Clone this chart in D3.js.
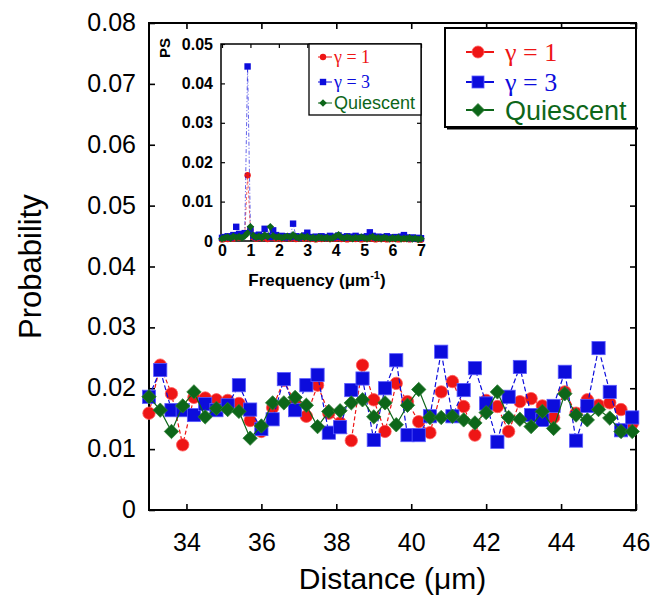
<!DOCTYPE html>
<html>
<head>
<meta charset="utf-8">
<script src="https://cdn.jsdelivr.net/npm/d3@7/dist/d3.min.js"></script>
<style>
  body { margin: 0; background: #fff; }
  svg { display: block; }
</style>
</head>
<body>
<svg id="chart" width="653" height="599"></svg>
<script>
// ---- Main panel: probability vs. distance ----
const distance = [33.0, 33.3, 33.6, 33.9, 34.2, 34.5, 34.8, 35.1, 35.4, 35.7, 36.0,
  36.3, 36.6, 36.9, 37.2, 37.5, 37.8, 38.1, 38.4, 38.7, 39.0, 39.3, 39.6, 39.9,
  40.2, 40.5, 40.8, 41.1, 41.4, 41.7, 42.0, 42.3, 42.6, 42.9, 43.2, 43.5, 43.8,
  44.1, 44.4, 44.7, 45.0, 45.3, 45.6, 45.9];

const probGamma1 = [0.0159, 0.0238, 0.0191, 0.0107, 0.0185, 0.0184, 0.0181, 0.0180,
  0.0175, 0.0147, 0.0129, 0.0168, 0.0213, 0.0175, 0.0154, 0.0205, 0.0159, 0.0143,
  0.0114, 0.0238, 0.0181, 0.0129, 0.0208, 0.0178, 0.0145, 0.0127, 0.0194, 0.0211,
  0.0170, 0.0123, 0.0180, 0.0170, 0.0129, 0.0178, 0.0183, 0.0171, 0.0152, 0.0194,
  0.0159, 0.0181, 0.0172, 0.0176, 0.0165, 0.0142];

const probGamma3 = [0.0186, 0.0230, 0.0164, 0.0164, 0.0156, 0.0174, 0.0164, 0.0172,
  0.0205, 0.0165, 0.0133, 0.0149, 0.0215, 0.0164, 0.0205, 0.0222, 0.0127, 0.0136,
  0.0197, 0.0216, 0.0115, 0.0200, 0.0246, 0.0123, 0.0123, 0.0154, 0.0260, 0.0154,
  0.0197, 0.0233, 0.0175, 0.0112, 0.0186, 0.0235, 0.0156, 0.0148, 0.0171, 0.0227,
  0.0114, 0.0171, 0.0266, 0.0194, 0.0131, 0.0152];

const probQuiescent = [0.0186, 0.0164, 0.0129, 0.0171, 0.0194, 0.0153, 0.0167, 0.0165,
  0.0162, 0.0118, 0.0138, 0.0176, 0.0176, 0.0185, 0.0172, 0.0137, 0.0162, 0.0163,
  0.0176, 0.0181, 0.0153, 0.0176, 0.0140, 0.0172, 0.0198, 0.0152, 0.0152, 0.0154,
  0.0148, 0.0143, 0.0160, 0.0194, 0.0152, 0.0149, 0.0137, 0.0162, 0.0134, 0.0191,
  0.0156, 0.0148, 0.0165, 0.0151, 0.0129, 0.0129];

const xTicks = [34, 36, 38, 40, 42, 44, 46];
const yTicks = [0, 0.01, 0.02, 0.03, 0.04, 0.05, 0.06, 0.07, 0.08];
const yTickLabels = ["0", "0.01", "0.02", "0.03", "0.04", "0.05", "0.06", "0.07", "0.08"];

// ---- Inset: power spectrum vs. frequency ----
const frequency = [0.0, 0.1, 0.2, 0.3, 0.4, 0.5, 0.6, 0.7, 0.8, 0.9, 1.0, 1.1, 1.2, 1.3,
  1.4, 1.5, 1.6, 1.7, 1.8, 1.9, 2.0, 2.1, 2.2, 2.3, 2.4, 2.5, 2.6, 2.7, 2.8, 2.9, 3.0,
  3.1, 3.2, 3.3, 3.4, 3.5, 3.6, 3.7, 3.8, 3.9, 4.0, 4.1, 4.2, 4.3, 4.4, 4.5, 4.6, 4.7,
  4.8, 4.9, 5.0, 5.1, 5.2, 5.3, 5.4, 5.5, 5.6, 5.7, 5.8, 5.9, 6.0, 6.1, 6.2, 6.3, 6.4,
  6.5, 6.6, 6.7, 6.8, 6.9, 7.0];

const psGamma1 = [0.0004, 0.0006, 0.0005, 0.0008, 0.0006, 0.0012, 0.0009, 0.0011, 0.0015,
  0.0167, 0.0028, 0.0010, 0.0006, 0.0009, 0.0007, 0.0012, 0.0005, 0.0010, 0.0008, 0.0006,
  0.0009, 0.0005, 0.0007, 0.0010, 0.0006, 0.0008, 0.0005, 0.0007, 0.0009, 0.0006, 0.0010,
  0.0005, 0.0006, 0.0004, 0.0007, 0.0005, 0.0006, 0.0008, 0.0005, 0.0007, 0.0006, 0.0009,
  0.0005, 0.0007, 0.0004, 0.0006, 0.0008, 0.0005, 0.0006, 0.0004, 0.0007, 0.0005, 0.0008,
  0.0006, 0.0004, 0.0006, 0.0005, 0.0007, 0.0004, 0.0006, 0.0005, 0.0007, 0.0004, 0.0006,
  0.0005, 0.0007, 0.0004, 0.0006, 0.0005, 0.0004, 0.0003];

const psGamma3 = [0.0008, 0.0010, 0.0012, 0.0009, 0.0015, 0.0036, 0.0018, 0.0012, 0.0020,
  0.0443, 0.0030, 0.0014, 0.0010, 0.0016, 0.0012, 0.0031, 0.0013, 0.0010, 0.0027, 0.0015,
  0.0011, 0.0013, 0.0009, 0.0012, 0.0010, 0.0044, 0.0012, 0.0009, 0.0011, 0.0014, 0.0021,
  0.0010, 0.0008, 0.0011, 0.0009, 0.0012, 0.0008, 0.0010, 0.0013, 0.0009, 0.0011, 0.0014,
  0.0010, 0.0008, 0.0012, 0.0009, 0.0011, 0.0013, 0.0008, 0.0010, 0.0009, 0.0012, 0.0022,
  0.0013, 0.0009, 0.0011, 0.0008, 0.0010, 0.0012, 0.0009, 0.0008, 0.0010, 0.0009, 0.0011,
  0.0015, 0.0009, 0.0007, 0.0009, 0.0006, 0.0008, 0.0007];

const psQuiescent = [0.0006, 0.0008, 0.0010, 0.0007, 0.0012, 0.0009, 0.0011, 0.0008, 0.0013,
  0.0020, 0.0036, 0.0014, 0.0009, 0.0012, 0.0008, 0.0015, 0.0011, 0.0036, 0.0013, 0.0009,
  0.0011, 0.0008, 0.0010, 0.0012, 0.0009, 0.0016, 0.0010, 0.0008, 0.0012, 0.0009, 0.0011,
  0.0007, 0.0009, 0.0006, 0.0010, 0.0008, 0.0007, 0.0009, 0.0006, 0.0008, 0.0012, 0.0016,
  0.0009, 0.0007, 0.0010, 0.0008, 0.0006, 0.0009, 0.0007, 0.0010, 0.0008, 0.0006, 0.0009,
  0.0011, 0.0007, 0.0008, 0.0006, 0.0009, 0.0007, 0.0005, 0.0008, 0.0006, 0.0009, 0.0005,
  0.0007, 0.0006, 0.0008, 0.0005, 0.0007, 0.0004, 0.0006];

const insetXTicks = [0, 1, 2, 3, 4, 5, 6, 7];
const insetYTicks = [0, 0.01, 0.02, 0.03, 0.04, 0.05];
const insetYTickLabels = ["0", "0.01", "0.02", "0.03", "0.04", "0.05"];

const seriesNames = ["\u03b3 = 1", "\u03b3 = 3", "Quiescent"];
const seriesColors = ["#ee1515", "#0c0cdc", "#0d6619"];

// ---------------------------------------------------------------
const SANS = "'Liberation Sans', Arial, Helvetica, sans-serif";
const SERIF = "'Liberation Serif', 'Times New Roman', serif";

const svg = d3.select("#chart");
svg.append("rect").attr("width", 653).attr("height", 599).attr("fill", "#fff");

const x = d3.scaleLinear().domain([33, 46]).range([149, 636]);
const y = d3.scaleLinear().domain([0, 0.08]).range([510, 23]);

// marker drawing helper
function drawMarker(sel, kind, size, color, stroke) {
  if (kind === "circle") {
    sel.append("circle").attr("r", size).attr("fill", color)
      .attr("stroke", stroke).attr("stroke-width", 0.8);
  } else if (kind === "square") {
    sel.append("rect").attr("x", -size).attr("y", -size)
      .attr("width", 2 * size).attr("height", 2 * size)
      .attr("fill", color).attr("stroke", stroke).attr("stroke-width", 0.8);
  } else {
    sel.append("path")
      .attr("d", `M0,${-size}L${size},0L0,${size}L${-size},0Z`)
      .attr("fill", color).attr("stroke", stroke).attr("stroke-width", 0.8);
  }
}

// ---- main axes (ticks point inward on all four sides) ----
const axisStyle = g => {
  g.select(".domain").remove();
  g.selectAll(".tick line").attr("stroke", "#000").attr("stroke-width", 1.6);
  g.selectAll(".tick text").attr("fill", "#000");
};

svg.append("g").attr("transform", "translate(0,510)")
  .call(d3.axisBottom(x).tickValues(xTicks).tickSizeInner(-6).tickSizeOuter(0)
    .tickPadding(23).tickFormat(d3.format("d")))
  .call(axisStyle)
  .call(g => g.selectAll(".tick text").style("font", `25px ${SANS}`));

svg.append("g").attr("transform", "translate(0,23)")
  .call(d3.axisTop(x).tickValues(xTicks).tickSizeInner(-6).tickSizeOuter(0).tickFormat(""))
  .call(axisStyle);

svg.append("g").attr("transform", "translate(149,0)")
  .call(d3.axisLeft(y).tickValues(yTicks).tickSizeInner(-6).tickSizeOuter(0)
    .tickPadding(13).tickFormat((d, i) => yTickLabels[i]))
  .call(axisStyle)
  .call(g => g.selectAll(".tick text").style("font", `25px ${SANS}`).attr("dy", "0.3em"));

svg.append("g").attr("transform", "translate(636,0)")
  .call(d3.axisRight(y).tickValues(yTicks).tickSizeInner(-6).tickSizeOuter(0).tickFormat(""))
  .call(axisStyle);

svg.append("rect")
  .attr("x", x.range()[0]).attr("y", y.range()[1])
  .attr("width", x.range()[1] - x.range()[0]).attr("height", y.range()[0] - y.range()[1])
  .attr("fill", "none").attr("stroke", "#000").attr("stroke-width", 2);

// axis titles
svg.append("text")
  .attr("x", (x.range()[0] + x.range()[1]) / 2).attr("y", 589)
  .attr("text-anchor", "middle")
  .style("font", `30px ${SANS}`)
  .text("Distance (\u03bcm)");

svg.append("text")
  .attr("transform", `translate(41,${(y.range()[0] + y.range()[1]) / 2}) rotate(-90)`)
  .attr("text-anchor", "middle")
  .style("font", `31px ${SANS}`)
  .text("Probability");

// ---- main series ----
const mainSeries = [
  { values: probGamma1, kind: "circle", size: 6.2, dash: "4,2.5", edge: "#ff5a5a" },
  { values: probGamma3, kind: "square", size: 6.6, dash: "5,2.5", edge: "#5a5aff" },
  { values: probQuiescent, kind: "diamond", size: 7.2, dash: null, edge: "#2d7f35" }
];

mainSeries.forEach((s, k) => {
  const pts = distance.map((d, i) => [d, s.values[i]]);
  const line = d3.line().x(p => x(p[0])).y(p => y(p[1]));
  svg.append("path").datum(pts)
    .attr("d", line)
    .attr("fill", "none")
    .attr("stroke", seriesColors[k])
    .attr("stroke-width", 1.2)
    .attr("stroke-dasharray", s.dash);
  const g = svg.append("g");
  pts.forEach(p => {
    const m = g.append("g").attr("transform", `translate(${x(p[0])},${y(p[1])})`);
    drawMarker(m, s.kind, s.size, seriesColors[k], s.edge);
  });
});

// ---- main legend ----
const legend = svg.append("g");
legend.append("rect").attr("x", 445).attr("y", 28).attr("width", 191).attr("height", 99)
  .attr("fill", "#fff").attr("stroke", "#000").attr("stroke-width", 2);
legend.append("line").attr("x1", 447).attr("x2", 638).attr("y1", 128.5).attr("y2", 128.5)
  .attr("stroke", "#000").attr("stroke-width", 2);
const legRows = [52, 82, 110];
mainSeries.forEach((s, k) => {
  const gy = legRows[k];
  legend.append("line").attr("x1", 466).attr("x2", 494).attr("y1", gy).attr("y2", gy)
    .attr("stroke", seriesColors[k]).attr("stroke-width", 2);
  const m = legend.append("g").attr("transform", `translate(478,${gy})`);
  drawMarker(m, s.kind, s.kind === "diamond" ? 6.5 : 6, seriesColors[k], s.edge);
  legend.append("text")
    .attr("x", 505).attr("y", gy).attr("dy", "0.36em")
    .attr("fill", seriesColors[k])
    .style("font", k < 2 ? `26px ${SERIF}` : `27px ${SANS}`)
    .text(seriesNames[k]);
});

// ---- inset ----
const xi = d3.scaleLinear().domain([0, 7]).range([222, 421]);
const yi = d3.scaleLinear().domain([0, 0.05]).range([241, 44]);

const inset = svg.append("g");
const insetAxisStyle = g => {
  g.select(".domain").remove();
  g.selectAll(".tick line").attr("stroke", "#000").attr("stroke-width", 1.2);
  g.selectAll(".tick text").attr("fill", "#000");
};

inset.append("g").attr("transform", "translate(0,241)")
  .call(d3.axisBottom(xi).tickValues(insetXTicks).tickSizeInner(-4).tickSizeOuter(0)
    .tickPadding(4).tickFormat(d3.format("d")))
  .call(insetAxisStyle)
  .call(g => g.selectAll(".tick text").style("font", `bold 16px ${SANS}`));
inset.append("g").attr("transform", "translate(0,44)")
  .call(d3.axisTop(xi).tickValues(insetXTicks).tickSizeInner(-4).tickSizeOuter(0).tickFormat(""))
  .call(insetAxisStyle);
inset.append("g").attr("transform", "translate(221,0)")
  .call(d3.axisLeft(yi).tickValues(insetYTicks).tickSizeInner(-4).tickSizeOuter(0)
    .tickPadding(8).tickFormat((d, i) => insetYTickLabels[i]))
  .call(insetAxisStyle)
  .call(g => g.selectAll(".tick text").style("font", `bold 16px ${SANS}`));
inset.append("g").attr("transform", "translate(421,0)")
  .call(d3.axisRight(yi).tickValues(insetYTicks).tickSizeInner(-4).tickSizeOuter(0).tickFormat(""))
  .call(insetAxisStyle);
inset.append("rect").attr("x", 221).attr("y", 44).attr("width", 200).attr("height", 197)
  .attr("fill", "none").attr("stroke", "#000").attr("stroke-width", 1.5);

const fl = inset.append("text")
  .attr("x", 317).attr("y", 286).attr("text-anchor", "middle")
  .style("font", `bold 17px ${SANS}`);
fl.append("tspan").text("Frequency (\u03bcm");
fl.append("tspan").attr("dy", -7).style("font-size", "11px").text("-1");
fl.append("tspan").attr("dy", 7).text(")");

inset.append("text")
  .attr("transform", "translate(170,48) rotate(-90)")
  .attr("text-anchor", "middle")
  .style("font", `bold 15px ${SANS}`)
  .text("PS");

const insetSeries = [
  { values: psGamma1, kind: "circle", size: 3.2, dash: "3,2" },
  { values: psGamma3, kind: "square", size: 3.2, dash: "4,2,1,2" },
  { values: psQuiescent, kind: "diamond", size: 3.8, dash: null }
];
insetSeries.forEach((s, k) => {
  const pts = frequency.map((f, i) => [f, s.values[i]]);
  inset.append("path").datum(pts)
    .attr("d", d3.line().x(p => xi(p[0])).y(p => yi(p[1])))
    .attr("fill", "none").attr("stroke", seriesColors[k])
    .attr("stroke-width", 0.8).attr("stroke-dasharray", s.dash)
    .attr("opacity", 0.8);
  pts.forEach(p => {
    const m = inset.append("g").attr("transform", `translate(${xi(p[0])},${yi(p[1])})`);
    drawMarker(m, s.kind, s.size, seriesColors[k], "none");
  });
});

// inset legend
inset.append("rect").attr("x", 309).attr("y", 44).attr("width", 112).attr("height", 71)
  .attr("fill", "#fff").attr("stroke", "#000").attr("stroke-width", 1.3);
const insetRows = [57, 82, 103];
insetSeries.forEach((s, k) => {
  const gy = insetRows[k];
  inset.append("line").attr("x1", 318).attr("x2", 332).attr("y1", gy).attr("y2", gy)
    .attr("stroke", seriesColors[k]).attr("stroke-width", 1);
  const m = inset.append("g").attr("transform", `translate(323,${gy})`);
  drawMarker(m, s.kind, s.size, seriesColors[k], "none");
  inset.append("text")
    .attr("x", 334).attr("y", gy).attr("dy", "0.35em")
    .attr("fill", seriesColors[k])
    .style("font", k < 2 ? `18px ${SERIF}` : `18px ${SANS}`)
    .text(seriesNames[k]);
});
</script>
</body>
</html>
